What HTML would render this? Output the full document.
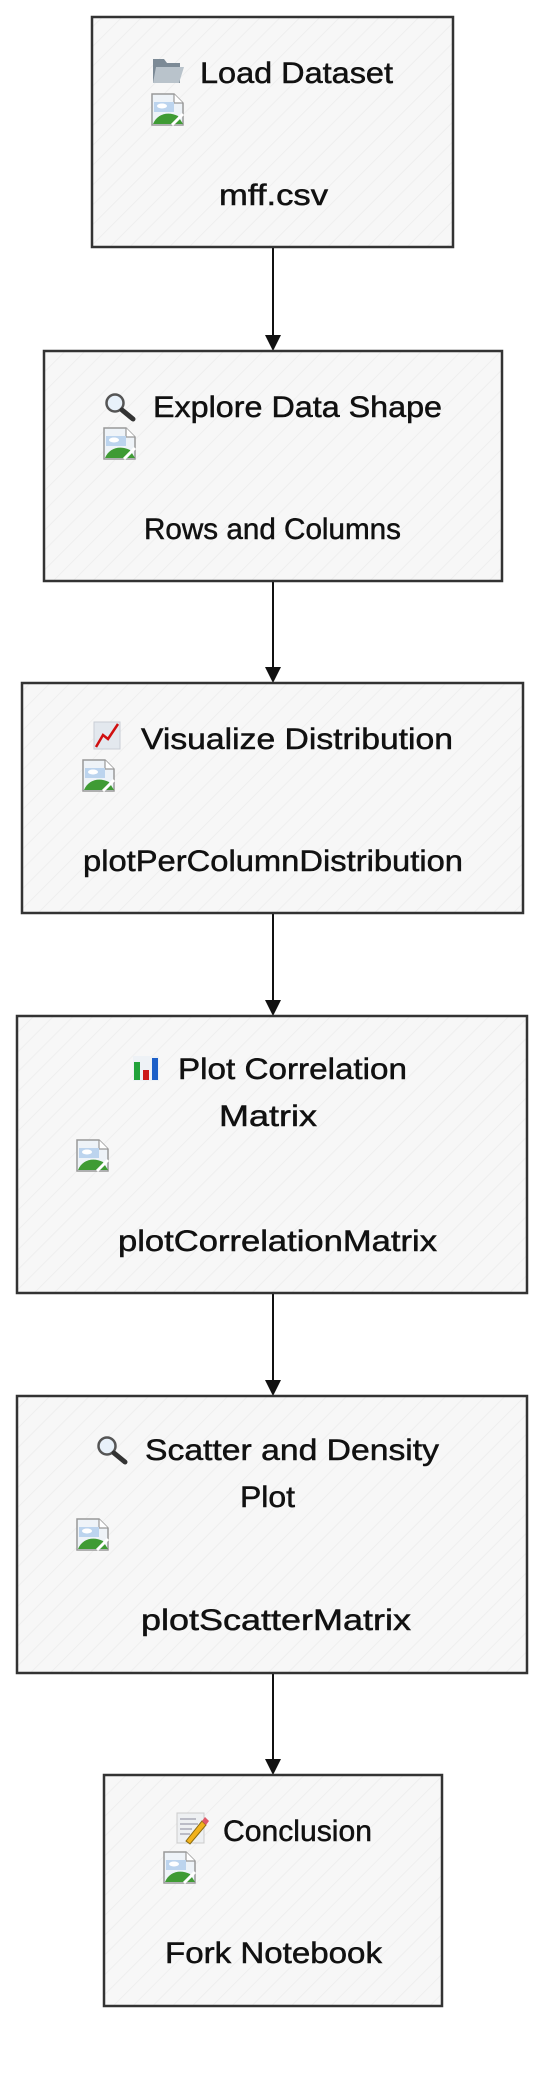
<!DOCTYPE html>
<html><head><meta charset="utf-8"><style>
html,body{margin:0;padding:0;background:#fff;width:558px;height:2082px;overflow:hidden}
text{font-family:"Liberation Sans",sans-serif;font-size:30px;fill:#111;stroke:#111;stroke-width:0.5}
</style></head><body>
<svg width="558" height="2082" viewBox="0 0 558 2082" xmlns="http://www.w3.org/2000/svg">
<defs>
<pattern id="h" width="14" height="14" patternUnits="userSpaceOnUse" patternTransform="rotate(45)">
<rect width="14" height="14" fill="#f7f7f7"/><line x1="0" y1="0" x2="0" y2="14" stroke="#ececec" stroke-width="1.5"/>
</pattern>
<g id="img">
<path d="M0 0H22L31 9V31H0Z" fill="#eef3f8" stroke="#999" stroke-width="1.5"/>
<path d="M22 0V9H31" fill="#fff" stroke="#999" stroke-width="1.2"/>
<rect x="2" y="8" width="20" height="10" fill="#bcd4ee"/>
<ellipse cx="10" cy="12" rx="5" ry="2.5" fill="#fff"/>
<path d="M1 30C5 20 16 17 26 22L31 30Z" fill="#3f9b34"/>
<path d="M20 31L31 20" stroke="#fff" stroke-width="3"/>
</g>
<g id="mag">
<circle cx="11" cy="11" r="8.5" fill="#e8f1fa" stroke="#555" stroke-width="2.5"/>
<path d="M18 18L29 27" stroke="#333" stroke-width="5" stroke-linecap="round"/>
</g>
</defs>

<g stroke="#111" stroke-width="2" fill="none">
<path d="M273 247V335"/><path d="M273 581V667"/><path d="M273 913V1000"/><path d="M273 1293V1380"/><path d="M273 1673V1759"/>
</g>
<g fill="#111">
<path d="M265 335H281L273 351Z"/><path d="M265 667H281L273 683Z"/><path d="M265 1000H281L273 1016Z"/><path d="M265 1380H281L273 1396Z"/><path d="M265 1759H281L273 1775Z"/>
</g>

<g fill="url(#h)" stroke="#333" stroke-width="2.5">
<rect x="92" y="17" width="361" height="230"/>
<rect x="44" y="351" width="458" height="230"/>
<rect x="22" y="683" width="501" height="230"/>
<rect x="17" y="1016" width="510" height="277"/>
<rect x="17" y="1396" width="510" height="277"/>
<rect x="104" y="1775" width="338" height="231"/>
</g>

<!-- box1 -->
<path d="M153 59H164L167 63H180V83H153Z" fill="#7c8a96"/><path d="M156 67H184L179 83H153Z" fill="#b9c3cb"/>
<text x="200" y="83" textLength="193" lengthAdjust="spacingAndGlyphs">Load Dataset</text>
<use href="#img" x="152" y="94"/>
<text x="219" y="205" textLength="109" lengthAdjust="spacingAndGlyphs">mff.csv</text>

<!-- box2 -->
<use href="#mag" x="104" y="392"/>
<text x="153" y="417" textLength="289" lengthAdjust="spacingAndGlyphs">Explore Data Shape</text>
<use href="#img" x="104" y="428"/>
<text x="144" y="539" textLength="257" lengthAdjust="spacingAndGlyphs">Rows and Columns</text>

<!-- box3 -->
<rect x="94" y="722" width="26" height="27" fill="#e3e8ee" stroke="#c8ced6"/>
<path d="M96 747L103 735L108 739L118 724" stroke="#d01010" stroke-width="2.5" fill="none"/>
<text x="141" y="749" textLength="312" lengthAdjust="spacingAndGlyphs">Visualize Distribution</text>
<use href="#img" x="83" y="760"/>
<text x="83" y="871" textLength="380" lengthAdjust="spacingAndGlyphs">plotPerColumnDistribution</text>

<!-- box4 -->
<rect x="133" y="1056" width="26" height="25" fill="#eef2f6"/>
<rect x="134" y="1062" width="6" height="18" fill="#22a33a"/><rect x="143" y="1070" width="6" height="10" fill="#cc1a1a"/><rect x="152" y="1058" width="6" height="22" fill="#1c5fc8"/>
<text x="178" y="1079" textLength="229" lengthAdjust="spacingAndGlyphs">Plot Correlation</text>
<text x="219" y="1126" textLength="98" lengthAdjust="spacingAndGlyphs">Matrix</text>
<use href="#img" x="77" y="1140"/>
<text x="118" y="1251" textLength="319" lengthAdjust="spacingAndGlyphs">plotCorrelationMatrix</text>

<!-- box5 -->
<use href="#mag" x="96" y="1435"/>
<text x="145" y="1460" textLength="294" lengthAdjust="spacingAndGlyphs">Scatter and Density</text>
<text x="240" y="1507" textLength="55" lengthAdjust="spacingAndGlyphs">Plot</text>
<use href="#img" x="77" y="1519"/>
<text x="141" y="1630" textLength="270" lengthAdjust="spacingAndGlyphs">plotScatterMatrix</text>

<!-- box6 -->
<rect x="177" y="1813" width="27" height="30" fill="#eef0f2" stroke="#ccc"/>
<g stroke="#889" stroke-width="1"><path d="M180 1819H196M180 1824H198M180 1829H192M180 1834H190"/></g>
<path d="M186 1841L202 1821L206 1825L190 1844Z" fill="#f2b21c" stroke="#8a6a10" stroke-width="1"/>
<path d="M202 1821L205 1817L209 1821L206 1825Z" fill="#e05a6a"/>
<text x="223" y="1841" textLength="149" lengthAdjust="spacingAndGlyphs">Conclusion</text>
<use href="#img" x="164" y="1852"/>
<text x="165" y="1963" textLength="217" lengthAdjust="spacingAndGlyphs">Fork Notebook</text>
</svg>
</body></html>
